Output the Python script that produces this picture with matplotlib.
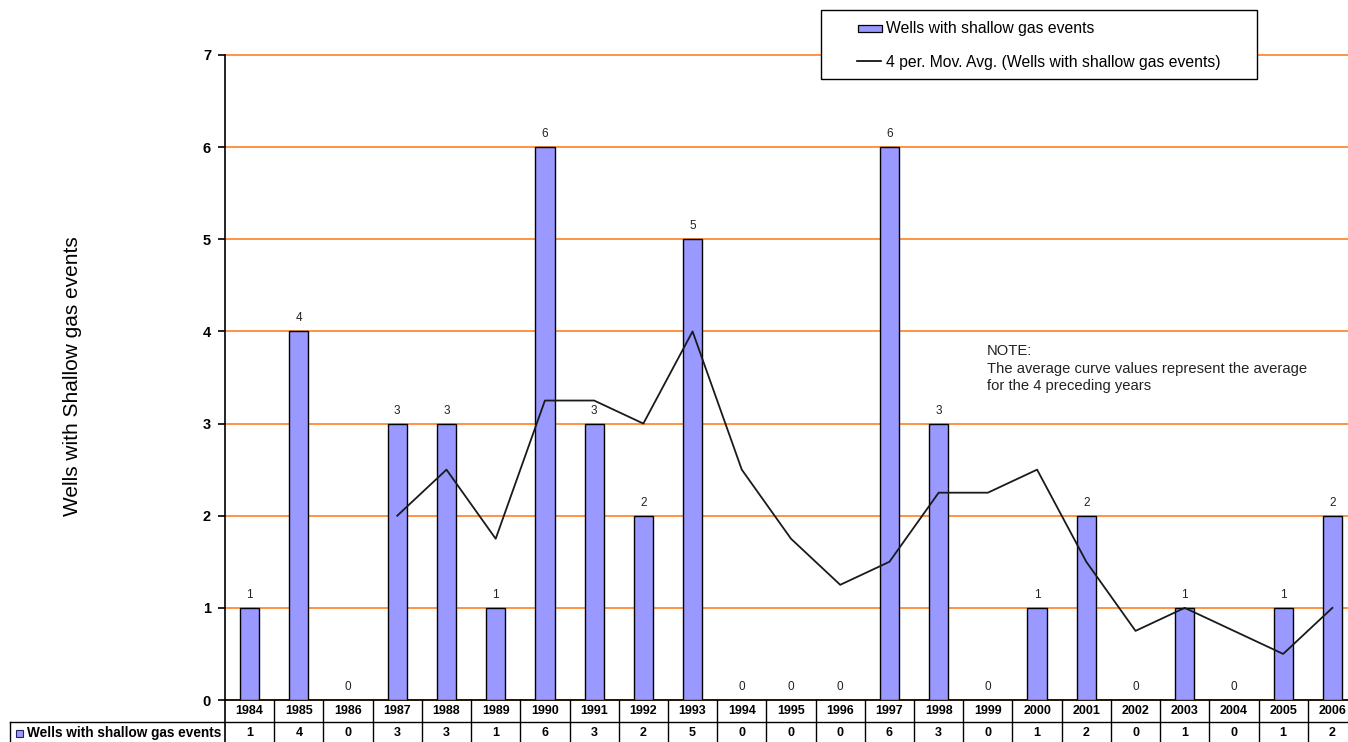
import matplotlib.pyplot as plt
import matplotlib.transforms as mtransforms
from matplotlib.patches import Rectangle
from matplotlib.lines import Line2D
import numpy as np

# data
years = [1984, 1985, 1986, 1987, 1988, 1989, 1990, 1991, 1992, 1993, 1994, 1995,
         1996, 1997, 1998, 1999, 2000, 2001, 2002, 2003, 2004, 2005, 2006]
wells = [1, 4, 0, 3, 3, 1, 6, 3, 2, 5, 0, 0, 0, 6, 3, 0, 1, 2, 0, 1, 0, 1, 2]
# moving average curve, starts at 1987
mov_avg = [2.0, 2.5, 1.75, 3.25, 3.25, 3.0, 4.0, 2.5, 1.75, 1.25, 1.5, 2.25,
           2.25, 2.5, 1.5, 0.75, 1.0, 0.75, 0.5, 1.0]

series_name = 'Wells with shallow gas events'
avg_name = '4 per. Mov. Avg. (Wells with shallow gas events)'
note_lines = ['NOTE:', 'The average curve values represent the average',
              'for the 4 preceding years']

plt.rcParams['font.family'] = ['Liberation Sans', 'DejaVu Sans']

W, H = 1348, 742
BAR = '#9999ff'
GRID = '#ff8a33'

fig = plt.figure(figsize=(W / 100, H / 100), dpi=100)
ax = fig.add_axes([225 / W, 1 - 700 / H, (1357 - 225) / W, (700 - 55) / H])

x = np.arange(len(years))
ax.bar(x, wells, width=0.39, color=BAR, edgecolor='black', linewidth=1, zorder=3)
ax.plot(x[len(x) - len(mov_avg):], mov_avg, color='#1a1a1a', lw=1.3, zorder=4)

for xi, v in zip(x, wells):
    ax.annotate(str(v), (xi, v), xytext=(0, 5), textcoords='offset points',
                ha='center', va='bottom', fontsize=8.5, color='#222222')

ax.set_xlim(-0.5, len(years) - 0.5)
ax.set_ylim(0, 7)
ax.set_yticks(range(8))
ax.set_xticks([])
ax.yaxis.grid(True, color=GRID, lw=1.3, zorder=0)
for gl in ax.yaxis.get_gridlines():
    gl.set_clip_on(False)
ax.set_axisbelow(True)
for s in ['top', 'right']:
    ax.spines[s].set_visible(False)
ax.spines['left'].set_linewidth(1.2)
ax.spines['bottom'].set_linewidth(1.2)
ax.tick_params(axis='y', length=5, width=1.2, pad=5, labelsize=10.5)
for lbl in ax.get_yticklabels():
    lbl.set_fontweight('bold')

fig.text(73 / W, 1 - 376 / H, 'Wells with Shallow gas events', rotation=90,
         ha='center', va='center', fontsize=15)

# data table under the axis
tr = mtransforms.blended_transform_factory(ax.transData, fig.transFigure)
y0 = 1 - 700 / H
y1 = 1 - 722 / H
lc = dict(color='black', lw=1.0, clip_on=False)
fig.add_artist(Line2D([10 / W, 1], [y1, y1], transform=fig.transFigure, **lc))
fig.add_artist(Line2D([10 / W, 10 / W], [y1, 0], transform=fig.transFigure, **lc))
fig.add_artist(Line2D([225 / W, 225 / W], [y0, 0], transform=fig.transFigure, lw=1.2, color='black'))
for i in range(1, len(years) + 1):
    ax.add_line(Line2D([i - 0.5, i - 0.5], [y0, 0], transform=tr, **lc))
for xi, yr, v in zip(x, years, wells):
    ax.text(xi, 1 - 711 / H, str(yr), transform=tr, ha='center', va='center',
            fontsize=9, fontweight='bold')
    ax.text(xi, 1 - 733 / H, str(v), transform=tr, ha='center', va='center',
            fontsize=9, fontweight='bold')
fig.add_artist(Rectangle((16 / W, 1 - 737 / H), 7 / W, 7 / H, transform=fig.transFigure,
                         facecolor=BAR, edgecolor='#222266', lw=0.8))
fig.text(27 / W, 1 - 733 / H, series_name, ha='left', va='center', fontsize=9.8,
         fontweight='bold')

# legend box
fig.add_artist(Rectangle((821 / W, 1 - 79 / H), (1257 - 821) / W, (79 - 10) / H,
                         transform=fig.transFigure, facecolor='white',
                         edgecolor='black', lw=1.0))
fig.add_artist(Rectangle((858 / W, 1 - 32 / H), 24 / W, 7 / H, transform=fig.transFigure,
                         facecolor=BAR, edgecolor='black', lw=0.9))
fig.text(886 / W, 1 - 28 / H, series_name, ha='left', va='center', fontsize=11.3)
fig.add_artist(Line2D([857 / W, 881 / W], [1 - 61 / H, 1 - 61 / H],
                      transform=fig.transFigure, color='black', lw=1.2))
fig.text(886 / W, 1 - 62 / H, avg_name, ha='left', va='center', fontsize=11.3)

for k, line in enumerate(note_lines):
    fig.text(987 / W, 1 - (351 + 17.5 * k) / H, line, ha='left', va='center',
             fontsize=10.6, color='#222222')

fig.savefig('out.png', dpi=100)
